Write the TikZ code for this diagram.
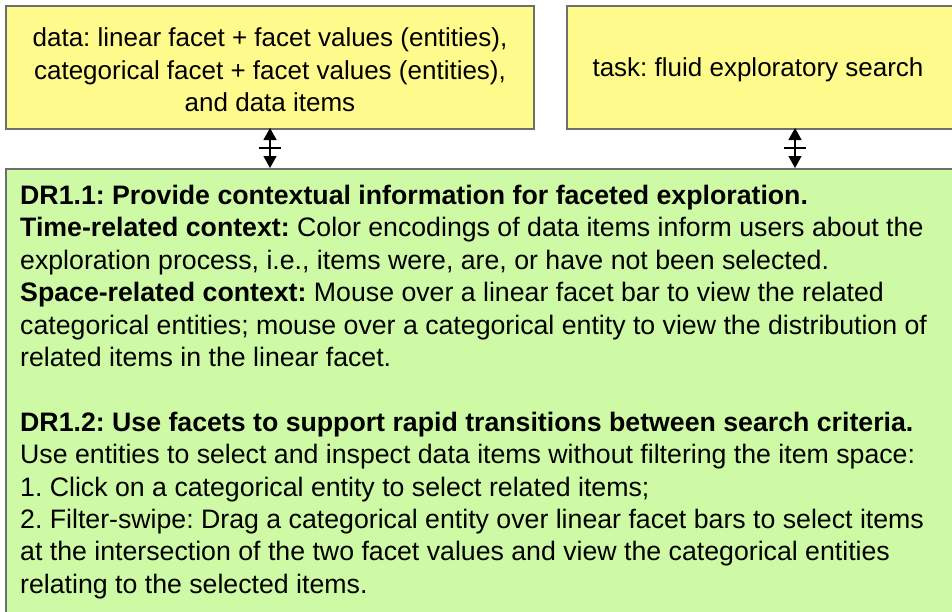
\documentclass[tikz,border=0pt]{standalone}
\usepackage{fontspec}
\setmainfont{Liberation Sans}
\usetikzlibrary{arrows.meta,calc}
\frenchspacing
\definecolor{boxyellow}{RGB}{255,250,140}
\definecolor{boxgreen}{RGB}{206,250,166}
\definecolor{edgegray}{RGB}{110,110,110}
\tikzset{
  panel/.style={draw=edgegray, line width=1.6pt, inner sep=0pt, anchor=north west},
  bodytext/.style={font=\fontsize{26.7}{32.4}\selectfont, align=left, inner sep=0pt, anchor=north west},
  headtext/.style={font=\fontsize{26}{32.4}\selectfont, align=center, inner sep=0pt},
  link/.style={line width=1.3pt, {Triangle[width=13pt,length=12pt]}-{Triangle[width=13pt,length=12pt]}},
  tick/.style={line width=1.3pt}
}
\begin{document}
\begin{tikzpicture}[x=1pt,y=-1pt]
\useasboundingbox (0,0) rectangle (952,611);
\clip (0,0) rectangle (952,611);

% top boxes
\node[panel, fill=boxyellow, minimum width=528pt, minimum height=123pt] (data) at (5,5) {};
\node[panel, fill=boxyellow, minimum width=400pt, minimum height=123pt] (task) at (566,5) {};
\node[headtext] (datatext) at (270,70)
  {data: linear facet + facet values (entities),\\
   categorical facet + facet values (entities),\\
   and data items};
\node[headtext] (tasktext) at (758,70) {task: fluid exploratory search};

% requirements panel
\node[panel, fill=boxgreen, minimum width=960pt, minimum height=460pt] (reqs) at (5,168) {};
\node[bodytext] (reqtext) at (20,185)
  {\textbf{DR1.1: Provide contextual information for faceted exploration.}\\
   \textbf{Time-related context:} Color encodings of data items inform users about the\\
   exploration process, i.e., items were, are, or have not been selected.\\
   \textbf{Space-related context:} Mouse over a linear facet bar to view the related\\
   categorical entities; mouse over a categorical entity to view the distribution of\\
   related items in the linear facet.\\[32.4pt]
   \textbf{DR1.2: Use facets to support rapid transitions between search criteria.}\\
   Use entities to select and inspect data items without filtering the item space:\\
   1. Click on a categorical entity to select related items;\\
   2. Filter-swipe: Drag a categorical entity over linear facet bars to select items\\
   at the intersection of the two facet values and view the categorical entities\\
   relating to the selected items.};

% two-way links
\coordinate (l1a) at (270,128);
\coordinate (l1b) at (270,168);
\coordinate (l2a) at (795,128);
\coordinate (l2b) at (795,168);
\draw[link] (l1a) -- (l1b);
\draw[link] (l2a) -- (l2b);
\draw[tick] ($(l1a)!0.5!(l1b)+(-11,0)$) -- ++(22,0);
\draw[tick] ($(l2a)!0.5!(l2b)+(-11,0)$) -- ++(22,0);
\end{tikzpicture}
\end{document}
